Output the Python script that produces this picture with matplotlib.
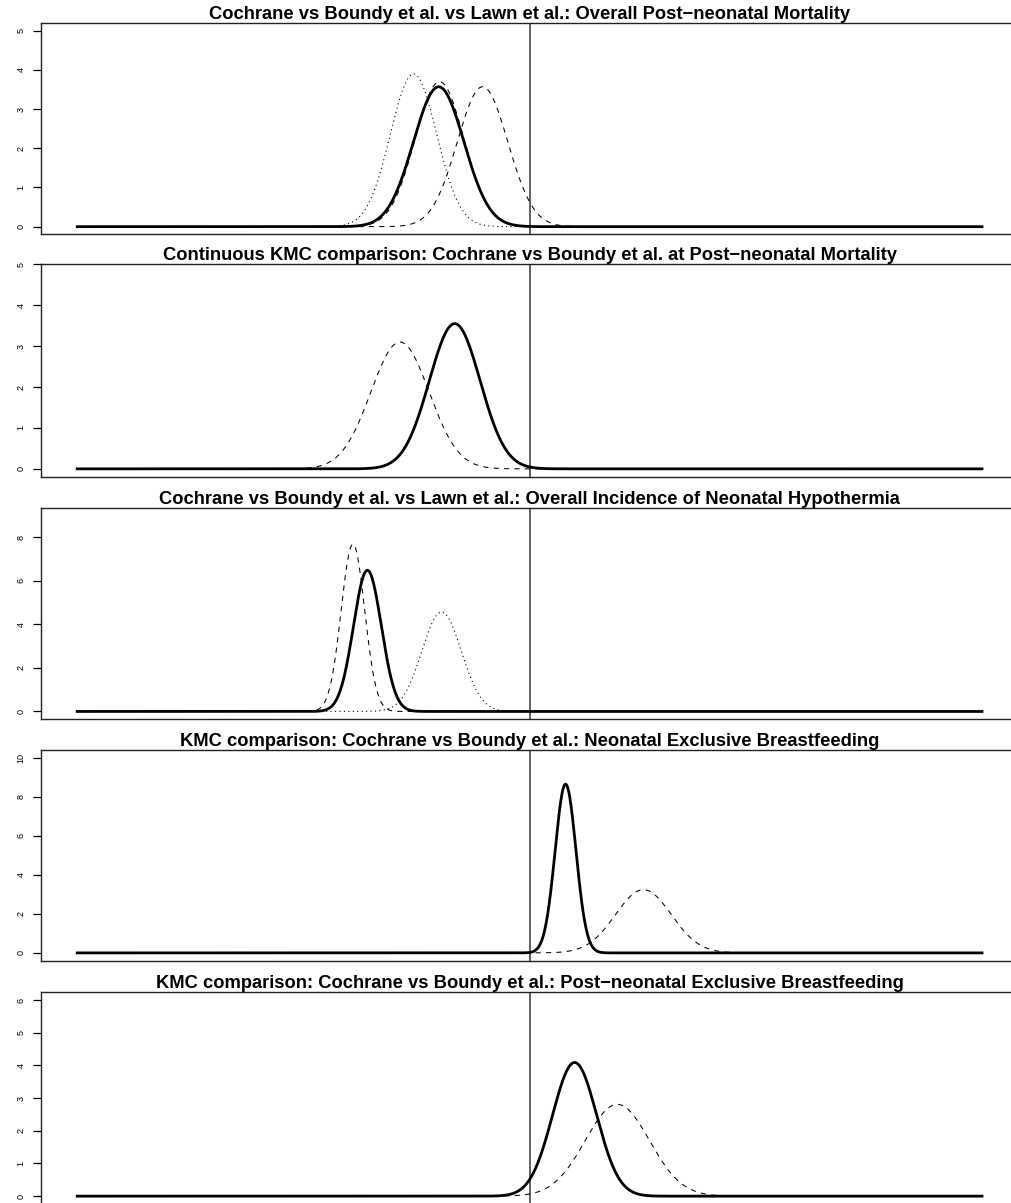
import numpy as np
import matplotlib
matplotlib.use("Agg")
import matplotlib.pyplot as plt

plt.rcParams['font.family'] = ['Liberation Sans', 'DejaVu Sans']

# titres des panneaux
titres = [
    "Cochrane vs Boundy et al. vs Lawn et al.: Overall Post\u2212neonatal Mortality",
    "Continuous KMC comparison: Cochrane vs Boundy et al. at Post\u2212neonatal Mortality",
    "Cochrane vs Boundy et al. vs Lawn et al.: Overall Incidence of Neonatal Hypothermia",
    "KMC comparison: Cochrane vs Boundy et al.: Neonatal Exclusive Breastfeeding",
    "KMC comparison: Cochrane vs Boundy et al.: Post\u2212neonatal Exclusive Breastfeeding",
]

# moyennes et ecarts-types des densites (echelle log)
moyennes = [
    [-0.402, -0.398, -0.208, -0.513],
    [-0.331, -0.573],
    [-0.717, -0.781, -0.389],
    [0.159, 0.503],
    [0.199, 0.388],
]
ecarts = [
    [0.1117, 0.1078, 0.1117, 0.1023],
    [0.1124, 0.1287],
    [0.0615, 0.0519, 0.0873],
    [0.0461, 0.1231],
    [0.0975, 0.142],
]
types_ligne = [
    ['solid', 'dashed', 'dashed', 'dotted'],
    ['solid', 'dashed'],
    ['solid', 'dashed', 'dotted'],
    ['solid', 'dashed'],
    ['solid', 'dashed'],
]
y_max = [5, 4.8, 9.0, 10, 6]
y_ticks = [range(0, 6), range(0, 6), range(0, 9, 2), range(0, 11, 2), range(0, 7)]
x_min, x_max = -2, 2
ligne_ref = 0

W, H = 1011, 1203
fig = plt.figure(figsize=(W / 100, H / 100), dpi=100)

# positions des panneaux en pixels (haut, bas)
hauts = [23, 264.3, 507.7, 750, 992.3]
bas = [234.5, 476.7, 719.3, 960.7, 1204]
gauche, droite = 41, 1018.2

x = np.linspace(x_min, x_max, 1201)

for i in range(5):
    ax = fig.add_axes([gauche / W, 1 - bas[i] / H, (droite - gauche) / W, (bas[i] - hauts[i]) / H])
    for m, s, t in zip(moyennes[i], ecarts[i], types_ligne[i]):
        d = np.exp(-0.5 * ((x - m) / s) ** 2) / (s * np.sqrt(2 * np.pi))
        if t == 'solid':
            ax.plot(x, d, color='black', lw=2.0, zorder=3)
        elif t == 'dashed':
            ax.plot(x, d, color='black', lw=0.75, dashes=(5, 5), zorder=2)
        else:
            ax.plot(x, d, color='black', lw=0.8, dashes=(1, 3), zorder=2)
    ax.axvline(ligne_ref, color='#333333', lw=1.1, zorder=1)
    pad = 0.04 * (x_max - x_min)
    ax.set_xlim(x_min - pad, x_max + pad)
    ax.set_ylim(-0.04 * y_max[i], y_max[i] * 1.04)
    ax.set_xticks([])
    ax.set_yticks(list(y_ticks[i]))
    ax.set_yticklabels([str(v) for v in y_ticks[i]], rotation=90, va='center', fontsize=6.5)
    ax.tick_params(axis='y', length=6, width=0.9, pad=5)
    for sp in ax.spines.values():
        sp.set_color('#222222')
        sp.set_linewidth(1.0)
    ax.set_title(titres[i], fontsize=13.2, fontweight='bold', pad=1)

fig.savefig("out.png", dpi=100)
